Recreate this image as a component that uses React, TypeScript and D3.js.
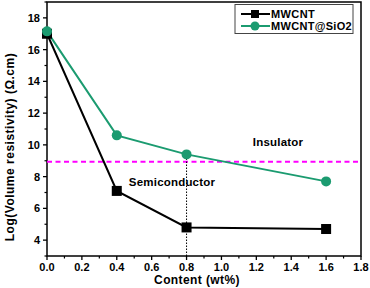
import * as d3 from "d3";

const content = [0, 0.4, 0.8, 1.6];
const mwcnt = [17.0, 7.1, 4.8, 4.7];
const mwcntSio2 = [17.15, 10.6, 9.4, 7.7];
const threshold = 8.93;
const xTicks = [0, 0.2, 0.4, 0.6, 0.8, 1.0, 1.2, 1.4, 1.6, 1.8];
const yTicks = [4, 6, 8, 10, 12, 14, 16, 18];

const GREEN = "#1b9b70";
const FONT = "'Liberation Sans', Arial, sans-serif";

export default function App() {
  const width = 370;
  const height = 288;
  const margin = { top: 2, right: 9, bottom: 32, left: 47 };

  const x = d3.scaleLinear().domain([0, 1.8]).range([margin.left, width - margin.right]);
  const y = d3.scaleLinear().domain([3, 19]).range([height - margin.bottom, margin.top]);

  const line = d3
    .line<[number, number]>()
    .x((d) => x(d[0]))
    .y((d) => y(d[1]));

  const blackPts = content.map((c, i) => [c, mwcnt[i]] as [number, number]);
  const greenPts = content.map((c, i) => [c, mwcntSio2[i]] as [number, number]);

  const xMinor = d3.range(0.1, 1.8, 0.2);
  const yMinor = d3.range(3, 19.01, 1).filter((v) => v % 2 === 1);

  const x0 = margin.left;
  const x1 = width - margin.right;
  const y0 = height - margin.bottom;
  const y1 = margin.top;

  return (
    <svg
      width={width}
      height={height}
      style={{ position: "absolute", left: 0, top: 0, background: "#fff" }}
      fontFamily={FONT}
      fontWeight="bold"
    >
      <rect x={x0} y={y1} width={x1 - x0} height={y0 - y1} fill="none" stroke="#000" strokeWidth={1.5} />

      {xTicks.map((t) => (
        <g key={"xt" + t}>
          <line x1={x(t)} x2={x(t)} y1={y0} y2={y0 + 4} stroke="#000" strokeWidth={1.3} />
          <text x={x(t)} y={y0 + 15} textAnchor="middle" fontSize={11}>
            {t.toFixed(1)}
          </text>
        </g>
      ))}
      {xMinor.map((t) => (
        <line key={"xm" + t} x1={x(t)} x2={x(t)} y1={y0} y2={y0 + 2.5} stroke="#000" strokeWidth={1.2} />
      ))}
      {yTicks.map((t) => (
        <g key={"yt" + t}>
          <line x1={x0 - 4} x2={x0} y1={y(t)} y2={y(t)} stroke="#000" strokeWidth={1.3} />
          <text x={x0 - 7} y={y(t) + 4} textAnchor="end" fontSize={11}>
            {t}
          </text>
        </g>
      ))}
      {yMinor.map((t) => (
        <line key={"ym" + t} x1={x0 - 2.5} x2={x0} y1={y(t)} y2={y(t)} stroke="#000" strokeWidth={1.2} />
      ))}

      <text x={x(0.86)} y={height - 4} textAnchor="middle" fontSize={12} letterSpacing={0.4}>
        Content (wt%)
      </text>
      <text
        transform={`translate(14,${147}) rotate(-90)`}
        textAnchor="middle"
        fontSize={12}
        letterSpacing={0.5}
      >
        Log(Volume resistivity) (Ω.cm)
      </text>

      <line x1={x0} x2={x1} y1={y(threshold)} y2={y(threshold)} stroke="#ff00ff" strokeWidth={2} strokeDasharray="5,3.5" />
      <line x1={x(0.8)} x2={x(0.8)} y1={y0} y2={y(mwcntSio2[2])} stroke="#000" strokeWidth={1} strokeDasharray="1.5,1.5" />

      <path d={line(blackPts) ?? ""} fill="none" stroke="#000" strokeWidth={2} />
      <path d={line(greenPts) ?? ""} fill="none" stroke={GREEN} strokeWidth={2} />
      {blackPts.map((p, i) => (
        <rect key={"b" + i} x={x(p[0]) - 5} y={y(p[1]) - 5} width={10} height={10} fill="#000" />
      ))}
      {greenPts.map((p, i) => (
        <circle key={"g" + i} cx={x(p[0])} cy={y(p[1])} r={5} fill={GREEN} />
      ))}

      <text x={278} y={146} textAnchor="middle" fontSize={11.5} letterSpacing={0.2}>
        Insulator
      </text>
      <text x={172} y={186} textAnchor="middle" fontSize={11.5} letterSpacing={0.2}>
        Semiconductor
      </text>

      <g>
        <rect x={235} y={4.5} width={118} height={29} fill="#fff" stroke="#444" strokeWidth={1} />
        <line x1={241} x2={270} y1={14} y2={14} stroke="#000" strokeWidth={2} />
        <rect x={251} y={10} width={8} height={8} fill="#000" />
        <text x={271} y={18} fontSize={11} letterSpacing={0.4}>
          MWCNT
        </text>
        <line x1={241} x2={270} y1={26} y2={26} stroke={GREEN} strokeWidth={2} />
        <circle cx={255} cy={26} r={4.5} fill={GREEN} />
        <text x={271} y={30} fontSize={11} letterSpacing={0.3}>
          MWCNT@SiO2
        </text>
      </g>
    </svg>
  );
}
